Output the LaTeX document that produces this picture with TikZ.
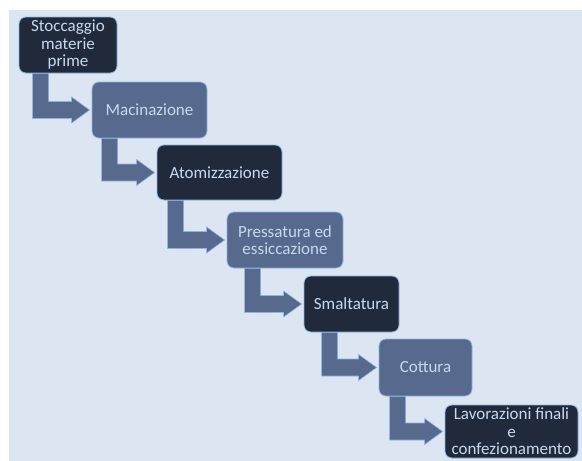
\documentclass[tikz,border=0pt]{standalone}
\usepackage{fontspec}
\setmainfont{Carlito}
\usetikzlibrary{calc}
\definecolor{bgblue}{HTML}{DCE6F2}
\definecolor{darkbox}{HTML}{202A3B}
\definecolor{midbox}{HTML}{57698C}
\definecolor{edgeblue}{HTML}{8EB4E3}
\definecolor{txtblue}{HTML}{C6D9F1}
\tikzset{
  boxbase/.style={rounded corners=7pt, draw=edgeblue, line width=0.8pt, inner sep=0pt,
    align=center, text=txtblue, font=\fontsize{17}{17.5}\selectfont},
  darkstep/.style={boxbase, fill=darkbox},
  midstep/.style={boxbase, fill=midbox},
  bentarrow/.style={fill=midbox, draw=edgeblue, line width=0.6pt, line join=miter},
}
\newcommand\bentconn[3]{%
  \path let \p1=(#1.south west), \p2=(#2.west) in
    [bentarrow] (\x1+#3pt,\y1) -- (\x1+#3pt+16pt,\y1) -- (\x1+#3pt+16pt,\y2+8.5pt)
    -- (\x2-20pt,\y2+8.5pt) -- (\x2-20pt,\y2+13pt) -- (\x2-2pt,\y2)
    -- (\x2-20pt,\y2-13pt) -- (\x2-20pt,\y2-8.5pt) -- (\x1+#3pt,\y2-8.5pt) -- cycle;}
\begin{document}
\begin{tikzpicture}[x=1pt,y=-1pt]
\useasboundingbox (0,0) rectangle (582,461);
\fill[white] (0,0) rectangle (582,461);
\fill[bgblue] (9,10) rectangle (582,461);
\node[darkstep, minimum width=98pt, minimum height=56pt] (b1) at (68,45) {Stoccaggio\\materie\\prime};
\node[midstep, minimum width=115pt, minimum height=56pt] (b2) at (149.5,110) {Macinazione};
\node[darkstep, minimum width=125pt, minimum height=55pt] (b3) at (219.5,172.5) {Atomizzazione};
\node[midstep, minimum width=116pt, minimum height=56pt] (b4) at (285,240) {Pressatura ed\\essiccazione};
\node[darkstep, minimum width=95pt, minimum height=56pt] (b5) at (351.5,304) {Smaltatura};
\node[midstep, minimum width=93pt, minimum height=57pt] (b6) at (425.5,367.5) {Cottura};
\node[darkstep, minimum width=133pt, minimum height=53pt] (b7) at (511.5,431.5) {Lavorazioni finali\\e\\confezionamento};
\bentconn{b1}{b2}{14}
\bentconn{b2}{b3}{10}
\bentconn{b3}{b4}{11}
\bentconn{b4}{b5}{18}
\bentconn{b5}{b6}{18}
\bentconn{b6}{b7}{11}
\end{tikzpicture}
\end{document}
